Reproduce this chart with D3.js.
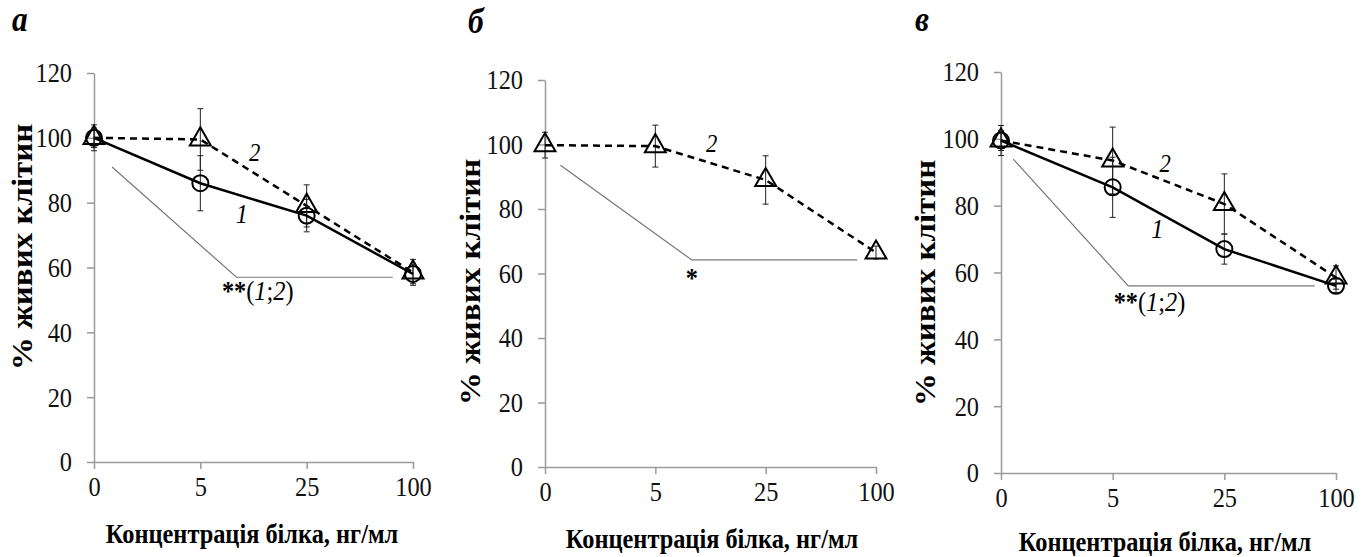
<!DOCTYPE html>
<html>
<head>
<meta charset="utf-8">
<script src="https://cdn.jsdelivr.net/npm/d3@7"></script>
<style>
  body { margin: 0; background: #fff; }
</style>
</head>
<body>
<div id="chart"></div>
<script>
// concentrations, ng/ml (categorical)
var concLabels = ["0", "5", "25", "100"];
var yTicks = [0, 20, 40, 60, 80, 100, 120];

// panel a
var aLine1 = [100, 86, 76, 58];
var aErr1 = [3, 8.5, 5, 3];
var aLine2 = [100, 99.5, 79, 58.5];
var aErr2 = [4, 9.5, 6.5, 4];
var aSig = [[0.17, 91], [1.34, 57], [2.81, 57]];

// panel b
var bLine2 = [99.8, 99.5, 89, 66.5];
var bErr2 = [4, 6.5, 7.5, 2];
var bSig = [[0.14, 93.6], [1.33, 64.2], [2.83, 64.2]];

// panel c
var cLine1 = [99.5, 85.5, 67, 56];
var cErr1 = [3, 9, 4.5, 2];
var cLine2 = [99.5, 93.5, 80.5, 58.5];
var cErr2 = [4.5, 10, 9, 3.5];
var cSig = [[0.11, 93.9], [1.14, 56], [2.81, 56]];

var FONT = '"Liberation Serif", "Times New Roman", serif';
var SQ = 0.87; // the figure is squeezed horizontally

var svg = d3.select("#chart").append("svg")
    .attr("width", 1370)
    .attr("height", 557)
    .style("font-family", FONT);

// layout of the three panels
var panels = [
  { letter: "a", x0: 94, x1: 413, y0: 462, y1: 73, lx: 12, ly: 31, ytx: 22, yty: 247, xtx: 252, xty: 533,
    s1: aLine1, e1: aErr1, s2: aLine2, e2: aErr2, sig: aSig, sigText: "**", sigPair: true,
    sigPos: [1.54, 53], l1: [1.39, 76.6], l2: [1.51, 95.6] },
  { letter: "б", x0: 545, x1: 876, y0: 467, y1: 80, lx: 468, ly: 33, ytx: 470, yty: 282, xtx: 712, xty: 538,
    s1: null, e1: null, s2: bLine2, e2: bErr2, sig: bSig, sigText: "*", sigPair: false,
    sigPos: [1.33, 59], l1: null, l2: [1.51, 100.5] },
  { letter: "в", x0: 1001, x1: 1336, y0: 473, y1: 72, lx: 915, ly: 31, ytx: 925, yty: 283, xtx: 1165, xty: 541,
    s1: cLine1, e1: cErr1, s2: cLine2, e2: cErr2, sig: cSig, sigText: "**", sigPair: true,
    sigPos: [1.33, 51.5], l1: [1.40, 73.4], l2: [1.47, 92.8] }
];

// text squeezed like the original picture
function sqText(parent, x, y, size, extra) {
  return parent.append("text")
      .attr("transform", `translate(${x},${y}) scale(${SQ},1)` + (extra || ""))
      .attr("dy", "0.35em")
      .attr("text-anchor", "middle")
      .attr("font-size", size)
      .style("font-family", FONT);
}

panels.forEach(function(p) {
  var g = svg.append("g");

  var x = d3.scaleLinear().domain([0, 3]).range([p.x0, p.x1]);
  var y = d3.scaleLinear().domain([0, 120]).range([p.y0, p.y1]);

  // axes
  var yAxis = g.append("g")
      .attr("transform", `translate(${p.x0},0)`)
      .call(d3.axisLeft(y).tickValues(yTicks).tickSize(7).tickSizeOuter(0).tickPadding(15));
  var xAxis = g.append("g")
      .attr("transform", `translate(0,${p.y0})`)
      .call(d3.axisBottom(x).tickValues([0, 1, 2, 3]).tickFormat(i => concLabels[i])
        .tickSize(7).tickSizeOuter(0).tickPadding(7));
  [yAxis, xAxis].forEach(function(ax) {
    ax.attr("font-family", null).attr("font-size", null);
    ax.selectAll("path, line").attr("stroke", "#9a9a9a").attr("stroke-width", 1.5);
    ax.selectAll("text")
        .attr("font-size", 28)
        .attr("fill", "#111")
        .attr("transform", `scale(${SQ},1)`)
        .style("font-family", FONT);
  });
  yAxis.selectAll("text").attr("x", -22 / SQ);

  // significance bracket
  g.append("path")
      .attr("d", d3.line().x(d => x(d[0])).y(d => y(d[1]))(p.sig))
      .attr("fill", "none")
      .attr("stroke", "#777")
      .attr("stroke-width", 1.2);

  var st = sqText(g, x(p.sigPos[0]), y(p.sigPos[1]), 28);
  st.append("tspan").attr("font-weight", "bold").text(p.sigText);
  if (p.sigPair) {
    st.append("tspan").text("(");
    st.append("tspan").attr("font-style", "italic").text("1");
    st.append("tspan").text(";");
    st.append("tspan").attr("font-style", "italic").text("2");
    st.append("tspan").text(")");
  }

  function drawSeries(vals, errs, dashed, marker) {
    var pts = vals.map((v, i) => ({ i: i, v: v, e: errs[i] }));

    // error bars
    var eb = g.append("g").attr("stroke", "#222").attr("stroke-width", 1);
    pts.forEach(function(d) {
      eb.append("line").attr("x1", x(d.i)).attr("x2", x(d.i)).attr("y1", y(d.v - d.e)).attr("y2", y(d.v + d.e));
      eb.append("line").attr("x1", x(d.i) - 3).attr("x2", x(d.i) + 3).attr("y1", y(d.v - d.e)).attr("y2", y(d.v - d.e));
      eb.append("line").attr("x1", x(d.i) - 3).attr("x2", x(d.i) + 3).attr("y1", y(d.v + d.e)).attr("y2", y(d.v + d.e));
    });

    g.append("path")
        .attr("d", d3.line().x(d => x(d.i)).y(d => y(d.v))(pts))
        .attr("fill", "none")
        .attr("stroke", "#000")
        .attr("stroke-width", 2.5)
        .attr("stroke-dasharray", dashed ? "7,5" : null);

    if (marker == "circle") {
      g.selectAll(null).data(pts).enter().append("circle")
          .attr("cx", d => x(d.i))
          .attr("cy", d => y(d.v))
          .attr("r", 8)
          .attr("fill", "none")
          .attr("stroke", "#000")
          .attr("stroke-width", 2);
    } else {
      g.selectAll(null).data(pts).enter().append("path")
          .attr("d", d3.symbol(d3.symbolTriangle, 190))
          .attr("transform", d => `translate(${x(d.i)},${y(d.v)})`)
          .attr("fill", "none")
          .attr("stroke", "#000")
          .attr("stroke-width", 2);
    }
  }

  if (p.s2) drawSeries(p.s2, p.e2, true, "triangle");
  if (p.s1) drawSeries(p.s1, p.e1, false, "circle");

  // series numbers
  if (p.l1) sqText(g, x(p.l1[0]), y(p.l1[1]), 28).attr("font-style", "italic").text("1");
  sqText(g, x(p.l2[0]), y(p.l2[1]), 26).attr("font-style", "italic").text("2");

  // panel letter
  g.append("text").attr("transform", `translate(${p.lx},${p.ly}) scale(${SQ},1)`)
      .attr("font-size", 36).attr("font-style", "italic").attr("font-weight", "bold")
      .style("font-family", FONT).text(p.letter);

  // axis titles
  sqText(g, p.ytx, p.yty, 33, " rotate(-90)")
      .attr("font-weight", "bold")
      .text("% живих клітин");
  sqText(g, p.xtx, p.xty, 28)
      .attr("font-weight", "bold")
      .text("Концентрація білка, нг/мл");
});
</script>
</body>
</html>
